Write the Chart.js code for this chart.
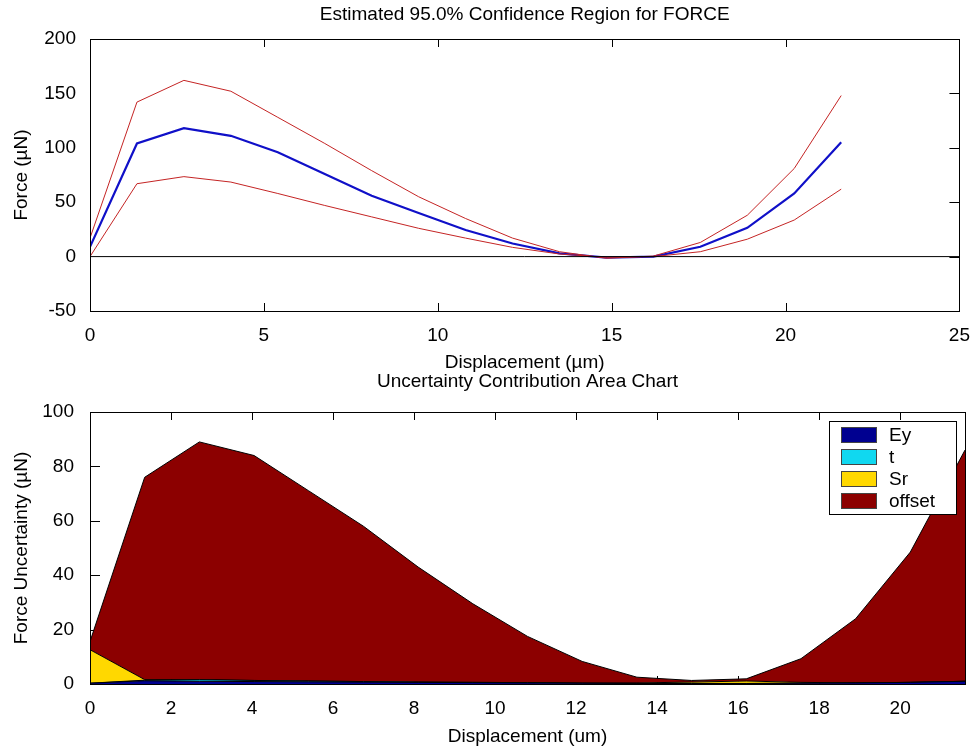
<!DOCTYPE html>
<html>
<head>
<meta charset="utf-8">
<script src="https://cdn.jsdelivr.net/npm/chart.js@4.4.0/dist/chart.umd.min.js"></script>
<style>
  body { margin: 0; background: #fff; }
  canvas { position: absolute; left: 0; }
  #forceChart { top: 0; }
  #uncChart { top: 372px; }
</style>
</head>
<body>
<canvas id="forceChart" width="977" height="372"></canvas>
<canvas id="uncChart" width="977" height="378"></canvas>
<script>
// displacement samples (um)
var displacement = [0, 1.35, 2.7, 4.05, 5.4, 6.75, 8.1, 9.45, 10.8, 12.15, 13.5, 14.85, 16.2, 17.55, 18.9, 20.25, 21.6];

// top chart: force estimate with 95% bounds
var forceMean  = [9, 104, 118, 111, 96, 76, 56, 40, 24.5, 12, 3, -1, 0, 9, 26.5, 58, 105];
var forceUpper = [17, 142, 162, 152, 128, 104, 79, 55, 35, 17, 4.5, -1.5, 0.5, 13, 38, 81, 148];
var forceLower = [0, 67, 73.5, 68.5, 58, 47, 36.5, 26, 17, 8.5, 2.4, -0.7, 0, 4.5, 16, 33.6, 62];
var zeroLineX = [0, 25];
var zeroLineY = [0, 0];
var forceXTicks = [0, 5, 10, 15, 20, 25];
var forceYTicks = [-50, 0, 50, 100, 150, 200];

// bottom chart: stacked uncertainty contributions
var seriesNames = ["Ey", "t", "Sr", "offset"];
var uEy     = [0.3, 1.2, 1.0, 0.9, 0.8, 0.7, 0.6, 0.5, 0.4, 0.3, 0.2, 0.2, 0.2, 0.3, 0.4, 0.6, 1.0];
var uT      = [0, 0.2, 0.6, 0.4, 0.3, 0.2, 0.1, 0.1, 0.1, 0, 0, 0, 0, 0, 0, 0, 0];
var uSr     = [12.3, 0.2, 0, 0, 0, 0, 0, 0, 0, 0, 0.2, 0.5, 0.9, 0.3, 0, 0, 0];
var uOffset = [3, 74.4, 87.4, 82.7, 69.9, 57.1, 42.3, 28.9, 17, 8, 2.1, 0.6, 0.8, 8.7, 23.6, 47.9, 85];
var uncXTicks = [0, 2, 4, 6, 8, 10, 12, 14, 16, 18, 20];
var uncYTicks = [0, 20, 40, 60, 80, 100];

var FONT = '"Liberation Sans", Arial, sans-serif';
Chart.defaults.font.family = FONT;
Chart.defaults.color = '#000';

function pts(xs, ys) {
  return xs.map(function (x, i) { return { x: x, y: ys[i] }; });
}
function fixedTicks(list) {
  return function (scale) { scale.ticks = list.map(function (v) { return { value: v }; }); };
}

// matlab style inward ticks + axes box + title centred over the axes
var axesBox = {
  id: 'axesBox',
  beforeDatasetsDraw: function (chart, args, opts) {
    var ctx = chart.ctx, a = chart.chartArea, x = chart.scales.x, y = chart.scales.y;
    ctx.save();
    ctx.strokeStyle = '#000';
    ctx.lineWidth = 1;
    ctx.beginPath();
    x.ticks.forEach(function (t) {
      var px = Math.round(x.getPixelForValue(t.value)) + 0.5;
      ctx.moveTo(px, a.top); ctx.lineTo(px, a.top + 8);
      ctx.moveTo(px, a.bottom); ctx.lineTo(px, a.bottom - 8);
    });
    y.ticks.forEach(function (t) {
      var py = Math.round(y.getPixelForValue(t.value)) + 0.5;
      if (opts.left) { ctx.moveTo(a.left, py); ctx.lineTo(a.left + 10, py); }
      ctx.moveTo(a.right, py); ctx.lineTo(a.right - 10, py);
    });
    ctx.stroke();
    ctx.restore();
  },
  afterDatasetsDraw: function (chart) {
    var ctx = chart.ctx, a = chart.chartArea;
    ctx.save();
    ctx.strokeStyle = '#000';
    ctx.lineWidth = 1;
    ctx.strokeRect(Math.round(a.left) + 0.5, Math.round(a.top) + 0.5, Math.round(a.width), Math.round(a.height));
    ctx.restore();
  },
  afterDraw: function (chart, args, opts) {
    var ctx = chart.ctx, a = chart.chartArea;
    ctx.save();
    ctx.font = '19px ' + FONT;
    ctx.fillStyle = '#000';
    ctx.textAlign = 'center';
    ctx.textBaseline = 'middle';
    ctx.fillText(opts.title, (a.left + a.right) / 2, opts.titleY);
    ctx.restore();
  }
};

var boxLegend = {
  id: 'boxLegend',
  afterDraw: function (chart) {
    var ctx = chart.ctx, a = chart.chartArea;
    var w = 127, h = 93;
    var bx = Math.round(a.right - 9 - w), by = Math.round(a.top + 9);
    ctx.save();
    ctx.fillStyle = '#fff';
    ctx.fillRect(bx, by, w, h);
    ctx.strokeStyle = '#000';
    ctx.lineWidth = 1;
    ctx.strokeRect(bx + 0.5, by + 0.5, w, h);
    ctx.font = '19px ' + FONT;
    ctx.textBaseline = 'middle';
    chart.data.datasets.forEach(function (ds, i) {
      var cy = by + 14 + i * 22;
      ctx.fillStyle = ds.backgroundColor;
      ctx.fillRect(bx + 12, cy - 8, 36, 16);
      ctx.strokeStyle = '#444';
      ctx.strokeRect(bx + 12.5, cy - 7.5, 35, 15);
      ctx.fillStyle = '#000';
      ctx.fillText(ds.label, bx + 60, cy + 1);
    });
    ctx.restore();
  }
};

var textFont = { size: 19, weight: 'normal', lineHeight: 1 };
var tickFont = { size: 19, lineHeight: 1 };
function plain(v) { return String(v); }

new Chart(document.getElementById('forceChart'), {
  type: 'line',
  data: {
    datasets: [
      { label: 'zero', data: pts(zeroLineX, zeroLineY), borderColor: '#000', borderWidth: 1 },
      { label: 'upper', data: pts(displacement, forceUpper), borderColor: '#c42424', borderWidth: 1 },
      { label: 'lower', data: pts(displacement, forceLower), borderColor: '#c42424', borderWidth: 1 },
      { label: 'force', data: pts(displacement, forceMean), borderColor: '#1010c8', borderWidth: 2.2 }
    ]
  },
  options: {
    responsive: false,
    animation: false,
    devicePixelRatio: 1,
    layout: { padding: { left: 0, right: 12, top: 39, bottom: 0 } },
    elements: { point: { radius: 0 }, line: { tension: 0 } },
    plugins: {
      legend: { display: false },
      tooltip: { enabled: false },
      title: { display: false },
      axesBox: { left: false, title: 'Estimated 95.0% Confidence Region for FORCE', titleY: 15 }
    },
    scales: {
      x: {
        type: 'linear', min: 0, max: 25,
        grid: { display: false }, border: { display: false },
        afterBuildTicks: fixedTicks(forceXTicks),
        afterFit: function (s) { s.height = 61; },
        ticks: { font: tickFont, padding: 7, maxRotation: 0, callback: plain },
        title: { display: true, text: 'Displacement (µm)', font: textFont, padding: { top: 0, bottom: 0 } }
      },
      y: {
        min: -50, max: 200,
        grid: { display: false }, border: { display: false },
        afterBuildTicks: fixedTicks(forceYTicks),
        afterFit: function (s) { s.width = 90; },
        ticks: { font: tickFont, padding: 6, callback: plain },
        title: { display: true, text: 'Force (µN)', font: textFont, padding: { top: 12, bottom: 0 } }
      }
    }
  },
  plugins: [axesBox]
});

var uncColors = ['#000090', '#10d8f0', '#ffd800', '#8c0000'];
var uncSeries = [uEy, uT, uSr, uOffset];

new Chart(document.getElementById('uncChart'), {
  type: 'line',
  data: {
    datasets: uncSeries.map(function (vals, i) {
      return {
        label: seriesNames[i],
        data: pts(displacement, vals),
        backgroundColor: uncColors[i],
        borderColor: '#000',
        borderWidth: 1,
        fill: i === 0 ? 'origin' : '-1'
      };
    })
  },
  options: {
    responsive: false,
    animation: false,
    devicePixelRatio: 1,
    layout: { padding: { left: 0, right: 12, top: 40, bottom: 0 } },
    elements: { point: { radius: 0 }, line: { tension: 0 } },
    plugins: {
      legend: { display: false },
      tooltip: { enabled: false },
      title: { display: false },
      axesBox: { left: true, title: 'Uncertainty Contribution Area Chart', titleY: 10 }
    },
    scales: {
      x: {
        type: 'linear', min: 0, max: 21.6,
        grid: { display: false }, border: { display: false },
        afterBuildTicks: fixedTicks(uncXTicks),
        afterFit: function (s) { s.height = 66; },
        ticks: { font: tickFont, padding: 7, maxRotation: 0, callback: plain },
        title: { display: true, text: 'Displacement (um)', font: textFont, padding: { top: 0, bottom: 3.5 } }
      },
      y: {
        stacked: true,
        min: 0, max: 100,
        grid: { display: false }, border: { display: false },
        afterBuildTicks: fixedTicks(uncYTicks),
        afterFit: function (s) { s.width = 90; },
        ticks: { font: tickFont, padding: 8, callback: plain },
        title: { display: true, text: 'Force Uncertainty (µN)', font: textFont, padding: { top: 12, bottom: 0 } }
      }
    }
  },
  plugins: [axesBox, boxLegend]
});
</script>
</body>
</html>
